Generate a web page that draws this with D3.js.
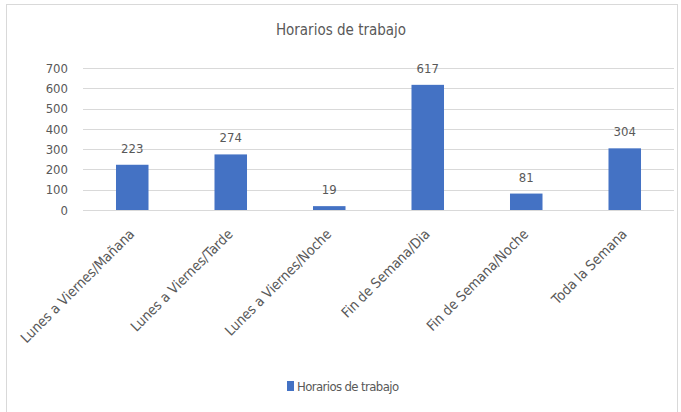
<!DOCTYPE html>
<html>
<head>
<meta charset="utf-8">
<script src="https://cdn.jsdelivr.net/npm/d3@7"></script>
<style>
  body { margin: 0; background: #fff; }
  text { font-family: "DejaVu Sans Condensed", "Liberation Sans", sans-serif; fill: #595959; }
</style>
</head>
<body>
<div id="chart"></div>
<script>
var categories = ["Lunes a Viernes/Mañana", "Lunes a Viernes/Tarde", "Lunes a Viernes/Noche",
                  "Fin de Semana/Dia", "Fin de Semana/Noche", "Toda la Semana"];
var values = [223, 274, 19, 617, 81, 304];
var yTicks = [0, 100, 200, 300, 400, 500, 600, 700];
var title = "Horarios de trabajo";
var seriesName = "Horarios de trabajo";

var W = 681, H = 412;
var margin = { top: 68, right: 7, bottom: 202, left: 83 };
var width = W - margin.left - margin.right;
var height = H - margin.top - margin.bottom;

var svg = d3.select("#chart").append("svg").attr("width", W).attr("height", H);

// outer frame
svg.append("rect").attr("x", 6.5).attr("y", 4.5).attr("width", 671).attr("height", 420)
  .attr("fill", "none").attr("stroke", "#d9d9d9");

svg.append("text").attr("x", 341).attr("y", 35).attr("text-anchor", "middle")
  .style("font-size", "15px").text(title);

var g = svg.append("g").attr("transform", "translate(" + margin.left + "," + margin.top + ")");

var x = d3.scaleBand().domain(categories).range([0, width]).paddingInner(0.67).paddingOuter(0.335);
var y = d3.scaleLinear().domain([0, 700]).range([height, 0]);

// gridlines
g.append("g").selectAll("line").data(yTicks).join("line")
  .attr("x1", 0).attr("x2", width)
  .attr("y1", function(d) { return Math.round(y(d)) + 0.5; })
  .attr("y2", function(d) { return Math.round(y(d)) + 0.5; })
  .attr("stroke", "#d9d9d9").attr("stroke-width", 1);

// y axis labels
var yAxis = g.append("g").call(d3.axisLeft(y).tickValues(yTicks).tickSize(0).tickPadding(15));
yAxis.select(".domain").remove();
yAxis.selectAll("text").style("font-size", "13px").attr("fill", "#595959");

// bars
g.selectAll("rect.bar").data(values).join("rect").attr("class", "bar")
  .attr("x", function(d, i) { return x(categories[i]); })
  .attr("y", function(d) { return y(d); })
  .attr("width", x.bandwidth())
  .attr("height", function(d) { return height - y(d); })
  .attr("fill", "#4472c4");

// value labels
g.selectAll("text.val").data(values).join("text").attr("class", "val")
  .attr("x", function(d, i) { return x(categories[i]) + x.bandwidth() / 2; })
  .attr("y", function(d) { return y(d) - 12; })
  .attr("text-anchor", "middle")
  .style("font-size", "13px")
  .text(function(d) { return d; });

// x axis labels
var xAxis = g.append("g").attr("transform", "translate(0," + height + ")")
  .call(d3.axisBottom(x).tickSize(0).tickPadding(0));
xAxis.select(".domain").remove();
xAxis.selectAll("text")
  .style("font-size", "14px")
  .attr("fill", "#595959")
  .style("text-anchor", "end")
  .attr("dx", "0")
  .attr("dy", "0")
  .attr("transform", "translate(3,25) rotate(-45)");

// legend
var lg = svg.append("g").attr("transform", "translate(287,381)");
lg.append("rect").attr("width", 7).attr("height", 10).attr("fill", "#4472c4");
lg.append("text").attr("x", 10).attr("y", 10).style("font-size", "13px").style("letter-spacing", "-0.6px").text(seriesName);
</script>
</body>
</html>
